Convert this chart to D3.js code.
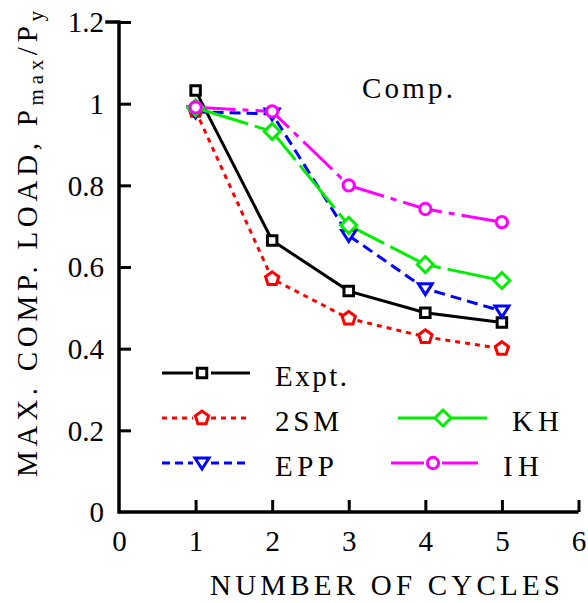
<!DOCTYPE html>
<html><head><meta charset="utf-8">
<script src="https://cdn.jsdelivr.net/npm/d3@7/dist/d3.min.js"></script>
<style>svg{display:block;}</style>
</head>
<body style="margin:0">
<svg id="chart" width="588" height="603" style="font-family:'Liberation Serif'">
<text x="362" y="98" style="font-family:'Liberation Serif';font-size:29px" textLength="91" lengthAdjust="spacing">Comp.</text>
</svg>
<script>
// ---- data ----
const cycles = [1, 2, 3, 4, 5];
const expt   = [1.032, 0.665, 0.541, 0.488, 0.464];
const sm2    = [0.983, 0.571, 0.474, 0.429, 0.400];
const epp    = [0.980, 0.975, 0.677, 0.547, 0.492];
const kh     = [0.990, 0.932, 0.702, 0.606, 0.567];
const ih     = [0.991, 0.981, 0.800, 0.742, 0.710];
const seriesNames = ["Expt.", "2SM", "EPP", "KH", "IH"];
const xTicks = [0, 1, 2, 3, 4, 5, 6];
const yTicks = [0, 0.2, 0.4, 0.6, 0.8, 1, 1.2];
const yTickLabels = ["0", "0.2", "0.4", "0.6", "0.8", "1", "1.2"];

const F = "Liberation Serif";
const svg = d3.select("#chart");
const x = d3.scaleLinear().domain([0, 6]).range([119, 578.5]);
const y = d3.scaleLinear().domain([0, 1.2]).range([512, 22]);

const styles = {
  "Expt.": {color:"#000000", dash:null,       sym:"square"},
  "2SM":   {color:"#ff0000", dash:"5,5",      sym:"pentagon"},
  "EPP":   {color:"#0000ff", dash:"11,6",     sym:"triangle"},
  "KH":    {color:"#00ee00", dash:"55,7",     sym:"diamond"},
  "IH":    {color:"#ff00ff", dash:"40,7,6,7", sym:"circle"}
};
const dataMap = {"Expt.":expt, "2SM":sm2, "EPP":epp, "KH":kh, "IH":ih};

function symbolPath(sym){
  switch(sym){
    case "square":   return d3.symbol().type(d3.symbolSquare).size(90)();
    case "pentagon": {
      const r = 7, pts = [];
      for (let i=0;i<5;i++){ const a = -Math.PI/2 + i*2*Math.PI/5; pts.push([r*Math.cos(a), r*Math.sin(a)]); }
      return "M" + pts.map(p=>p.join(",")).join("L") + "Z";
    }
    case "triangle": return "M-7,-5L7,-5L0,6Z";
    case "diamond":  return "M0,-8L8,0L0,8L-8,0Z";
    case "circle":   return d3.symbol().type(d3.symbolCircle).size(100)();
  }
}

// ---- axes ----
const yAxis = d3.axisLeft(y).tickValues(yTicks).tickSize(-12).tickFormat((d,i)=>yTickLabels[i]).tickPadding(15);
const xAxis = d3.axisBottom(x).tickValues(xTicks).tickSize(-12).tickFormat(d3.format("d")).tickPadding(18);
const gy = svg.append("g").attr("transform", `translate(${x(0)},0)`).call(yAxis);
const gx = svg.append("g").attr("transform", `translate(0,${y(0)})`).call(xAxis);
[gy, gx].forEach(g=>{
  g.attr("font-family", F).attr("font-size", 29);
  g.select(".domain").attr("stroke","#000").attr("stroke-width",3.5);
  g.selectAll(".tick line").attr("stroke","#000").attr("stroke-width",3);
  g.selectAll(".tick text").attr("font-family",F).attr("font-size",29).attr("fill","#000");
});
gy.select(".domain").attr("d", `M-12,${y(1.2)}H0V${y(0)}`).attr("stroke-linecap","square");
gx.select(".domain").attr("d", `M${x(0)},0H${x(6)}`);
gx.selectAll(".tick").filter(d=>d===0).select("line").remove();
gy.selectAll(".tick").filter(d=>d===0).select("line").remove();
gy.selectAll(".tick text").attr("dy","0.34em");
gx.selectAll(".tick text").attr("dy","0.71em");

// ---- series ----
const line = d3.line().x((d,i)=>x(cycles[i])).y(d=>y(d));
const order = ["Expt.", "2SM", "EPP", "KH", "IH"];
order.forEach(name=>{
  const s = styles[name];
  svg.append("path").datum(dataMap[name]).attr("d", line)
    .attr("fill","none").attr("stroke", s.color).attr("stroke-width",3)
    .attr("stroke-dasharray", s.dash);
});
order.forEach(name=>{
  const s = styles[name];
  svg.append("g").selectAll("path").data(dataMap[name]).join("path")
    .attr("d", symbolPath(s.sym))
    .attr("transform",(d,i)=>`translate(${x(cycles[i])},${y(d)})`)
    .attr("fill","#fff").attr("stroke", s.color).attr("stroke-width",3);
});

// ---- legend ----
const legendItems = [
  {name:"Expt.", x1:162, x2:250, mx:202, ty:373, tx:275, tl:72},
  {name:"2SM",   x1:162, x2:250, mx:202, ty:418, tx:275, tl:64},
  {name:"EPP",   x1:162, x2:250, mx:202, ty:463, tx:275, tl:59},
  {name:"KH",    x1:398, x2:487, mx:443, ty:418, tx:512, tl:47},
  {name:"IH",    x1:391, x2:478, mx:433, ty:463, tx:503, tl:36}
];
legendItems.forEach(it=>{
  const s = styles[it.name];
  const g = svg.append("g");
  const ld = it.name==="2SM" ? "5,5" : (it.name==="EPP" ? "8,5" : null);
  g.append("line").attr("x1",it.x1).attr("x2",it.mx-9).attr("y1",it.ty).attr("y2",it.ty)
    .attr("stroke",s.color).attr("stroke-width",3).attr("stroke-dasharray", ld);
  g.append("line").attr("x1",it.mx+9).attr("x2",it.x2).attr("y1",it.ty).attr("y2",it.ty)
    .attr("stroke",s.color).attr("stroke-width",3).attr("stroke-dasharray", ld);
  g.append("path").attr("d", symbolPath(s.sym)).attr("transform",`translate(${it.mx},${it.ty})`)
    .attr("fill","#fff").attr("stroke",s.color).attr("stroke-width",3);
  g.append("text").attr("x",it.tx).attr("y",it.ty+13).attr("font-family",F).attr("font-size",29)
    .attr("textLength",it.tl).attr("lengthAdjust","spacing").text(it.name);
});

// ---- axis titles ----
svg.append("text").attr("x",210).attr("y",595).attr("font-family",F).attr("font-size",29)
  .attr("textLength",350).attr("lengthAdjust","spacing").text("NUMBER OF CYCLES");

const yl = svg.append("text").attr("transform","translate(37,477) rotate(-90)")
  .attr("font-family",F).attr("font-size",29).attr("textLength",466).attr("lengthAdjust","spacing");
yl.append("tspan").text("MAX. COMP. LOAD, P");
yl.append("tspan").attr("font-size",21).attr("dy",6).text("max");
yl.append("tspan").attr("dy",-6).text("/P");
yl.append("tspan").attr("font-size",21).attr("dy",6).text("y");
</script>
</body></html>
